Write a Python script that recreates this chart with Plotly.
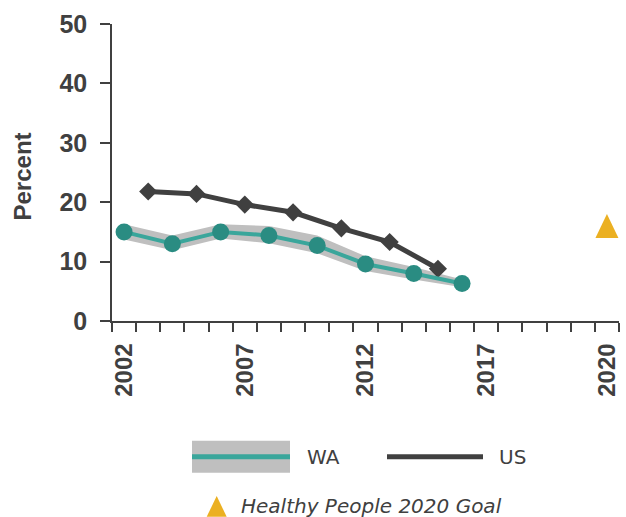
import plotly.graph_objects as go

# Axis slots: survey years 2002-2017, four unlabeled spacer slots, then 2020
axis_years = list(range(2002, 2018)) + [None, None, None, None, 2020]
label_years = [2002, 2007, 2012, 2017, 2020]

# Washington (every other year) with confidence band
wa_years = [2002, 2004, 2006, 2008, 2010, 2012, 2014, 2016]
wa_pct = [15.0, 13.0, 15.0, 14.4, 12.7, 9.6, 8.0, 6.3]
wa_upper = [16.3, 14.4, 16.3, 16.0, 14.4, 10.9, 9.1, 7.0]
wa_lower = [13.7, 11.9, 13.9, 13.1, 11.4, 8.4, 7.0, 5.7]

# United States
us_years = [2003, 2005, 2007, 2009, 2011, 2013, 2015]
us_pct = [21.8, 21.4, 19.6, 18.3, 15.6, 13.3, 8.8]

# Healthy People 2020 target
goal_year = 2020
goal_pct = 16.0

slot = {y: i for i, y in enumerate(axis_years) if y is not None}

TEAL_LINE = "#3AA69B"
TEAL_DOT = "#2A8C82"
BAND = "#BFBFBF"
DARK = "#404040"
GOLD = "#EBB022"

W, H = 626, 517
ML, MR, MT, MB = 112, 7, 24, 196
PW, PH = W - ML - MR, H - MT - MB


def px(x):
    return (x - ML) / PW


def py(y):
    return (H - MB - y) / PH


wx = [slot[y] for y in wa_years]
ux = [slot[y] for y in us_years]

fig = go.Figure()

# WA confidence band
fig.add_trace(go.Scatter(x=wx, y=wa_lower, mode="lines", line=dict(width=0, color=BAND),
                         hoverinfo="skip", showlegend=False))
fig.add_trace(go.Scatter(x=wx, y=wa_upper, mode="lines", line=dict(width=0, color=BAND),
                         fill="tonexty", fillcolor=BAND, hoverinfo="skip", showlegend=False))

# US series
fig.add_trace(go.Scatter(x=ux, y=us_pct, mode="lines+markers", name="US",
                         line=dict(color=DARK, width=5),
                         marker=dict(symbol="diamond", size=14, color=DARK),
                         showlegend=False))

# WA series
fig.add_trace(go.Scatter(x=wx, y=wa_pct, mode="lines+markers", name="WA",
                         line=dict(color=TEAL_LINE, width=4),
                         marker=dict(symbol="circle", size=17, color=TEAL_DOT),
                         showlegend=False))

shapes = []
# Goal marker: tall triangle anchored at the goal value
shapes.append(dict(type="path", xref="x", yref="y", xsizemode="pixel", ysizemode="pixel",
                   xanchor=slot[goal_year], yanchor=goal_pct,
                   path="M-11.5,-12 L11.5,-12 L0,12 Z",
                   fillcolor=GOLD, line=dict(width=0)))

# Legend keys
shapes.append(dict(type="rect", xref="paper", yref="paper",
                   x0=px(192), x1=px(290), y0=py(472.7), y1=py(440.7),
                   fillcolor=BAND, line=dict(width=0)))
shapes.append(dict(type="line", xref="paper", yref="paper",
                   x0=px(192), x1=px(290), y0=py(456.7), y1=py(456.7),
                   line=dict(color=TEAL_LINE, width=5)))
shapes.append(dict(type="line", xref="paper", yref="paper",
                   x0=px(387), x1=px(483), y0=py(456.7), y1=py(456.7),
                   line=dict(color=DARK, width=5)))
shapes.append(dict(type="path", xref="paper", yref="paper", xsizemode="pixel", ysizemode="pixel",
                   xanchor=px(216.7), yanchor=py(506.4),
                   path="M-10,-10.4 L10,-10.4 L0,10.4 Z",
                   fillcolor=GOLD, line=dict(width=0)))

legend_font = dict(family="DejaVu Sans", size=20, color=DARK)
annotations = [
    dict(text="WA", x=px(305), y=py(457), xref="paper", yref="paper", xanchor="left",
         yanchor="middle", showarrow=False, font=legend_font),
    dict(text="US", x=px(497), y=py(457), xref="paper", yref="paper", xanchor="left",
         yanchor="middle", showarrow=False, font=legend_font),
    dict(text="<i>Healthy People 2020 Goal</i>", x=px(239), y=py(506), xref="paper", yref="paper",
         xanchor="left", yanchor="middle", showarrow=False, font=legend_font),
    dict(text="Percent", x=px(22), y=py(176.5), xref="paper", yref="paper", textangle=-90,
         xanchor="center", yanchor="middle", showarrow=False,
         font=dict(family="Liberation Sans", size=24, color=DARK, weight="bold")),
]

fig.update_layout(
    width=W, height=H,
    margin=dict(l=ML, r=MR, t=MT, b=MB),
    paper_bgcolor="white", plot_bgcolor="white",
    shapes=shapes, annotations=annotations,
    showlegend=False,
    xaxis=dict(
        range=[-0.5, len(axis_years) - 0.5],
        tickvals=[slot[y] for y in label_years],
        ticktext=[str(y) for y in label_years],
        tickangle=-90, ticks="",
        tickfont=dict(family="Liberation Sans", size=24, color=DARK, weight="bold"),
        ticklabelstandoff=11,
        minor=dict(tick0=-0.5, dtick=1, ticks="outside", ticklen=9, tickcolor=DARK,
                   tickwidth=1.5, showgrid=False),
        showline=True, linecolor=DARK, linewidth=1.5,
        showgrid=False, zeroline=False,
    ),
    yaxis=dict(
        range=[0, 50], dtick=10,
        ticks="outside", ticklen=10, tickcolor=DARK, tickwidth=1.5,
        tickfont=dict(family="Liberation Sans", size=25, color=DARK, weight="bold"),
        ticklabelstandoff=8,
        showline=True, linecolor=DARK, linewidth=1.5,
        showgrid=False, zeroline=False,
    ),
)

fig.write_html("out.html")
